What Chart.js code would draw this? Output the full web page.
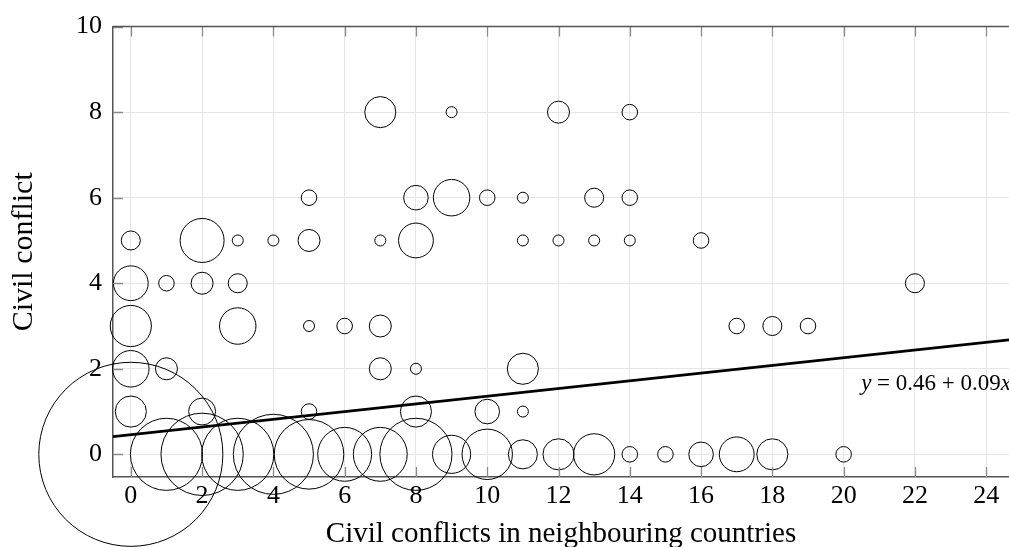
<!DOCTYPE html>
<html>
<head>
<meta charset="utf-8">
<script src="https://cdn.jsdelivr.net/npm/chart.js@4"></script>
<style>
  html, body { margin: 0; padding: 0; background: #fff; }
  #wrap { width: 1009px; height: 547px; position: relative; }
</style>
</head>
<body>
<div id="wrap"><canvas id="bubbleChart"></canvas></div>
<script>
// Civil conflicts in neighbouring countries (x) vs. civil conflict (y), bubble = number of observations
const neighbourConflicts = [
    0, 1, 2, 3, 4, 5, 6, 7, 8, 9, 10, 11, 12, 13, 14, 15, 16, 17, 18, 20,
    0, 2, 5, 8, 10, 11,
    0, 1, 7, 8, 11,
    0, 3, 5, 6, 7, 17, 18, 19,
    0, 1, 2, 3, 22,
    0, 2, 3, 4, 5, 7, 8, 11, 12, 13, 14, 16,
    5, 8, 9, 10, 11, 13, 14,
    7, 9, 12, 14
];
const civilConflicts = [
    0, 0, 0, 0, 0, 0, 0, 0, 0, 0, 0, 0, 0, 0, 0, 0, 0, 0, 0, 0,
    1, 1, 1, 1, 1, 1,
    2, 2, 2, 2, 2,
    3, 3, 3, 3, 3, 3, 3, 3,
    4, 4, 4, 4, 4,
    5, 5, 5, 5, 5, 5, 5, 5, 5, 5, 5, 5,
    6, 6, 6, 6, 6, 6, 6,
    8, 8, 8, 8
];
const observations = [
    280, 43, 56, 43, 53, 40, 24, 24, 43, 12, 21, 7, 8, 14, 2, 2, 5, 10, 8, 2,
    8, 6, 2, 8, 5, 1,
    11, 4, 4, 1, 8,
    14, 11, 1, 2, 4, 2, 3, 2,
    10, 2, 4, 3, 3,
    3, 16, 1, 1, 4, 1, 10, 1, 1, 1, 1, 2,
    2, 5, 11, 2, 1, 3, 2,
    8, 1, 4, 2
];

// Fitted line y = a + b x
const fitIntercept = 0.46;
const fitSlope = 0.09;

const xTicks = [0, 2, 4, 6, 8, 10, 12, 14, 16, 18, 20, 22, 24];
const yTicks = [0, 2, 4, 6, 8, 10];
const xMin = -0.5, xMax = 24.64;
const yMin = -0.53, yMax = 10;

const serif = "'Liberation Serif', 'DejaVu Serif', serif";
const bubbleScale = 5.5;

const bubbles = neighbourConflicts.map(function (x, i) {
    return { x: x, y: civilConflicts[i], r: bubbleScale * Math.sqrt(observations[i]) };
});

// Inward tick marks, top frame line and the fit label
const framePlugin = {
    id: 'frame',
    afterDraw: function (chart) {
        const ctx = chart.ctx;
        const a = chart.chartArea;
        const xs = chart.scales.x, ys = chart.scales.y;
        ctx.save();
        ctx.strokeStyle = '#8a8a8a';
        ctx.lineWidth = 1.3;
        ctx.beginPath();
        xTicks.forEach(function (v) {
            const px = Math.round(xs.getPixelForValue(v)) + 0.5;
            ctx.moveTo(px, a.bottom); ctx.lineTo(px, a.bottom - 10);
            ctx.moveTo(px, a.top); ctx.lineTo(px, a.top + 10);
        });
        yTicks.forEach(function (v) {
            const py = Math.round(ys.getPixelForValue(v)) + 0.5;
            ctx.moveTo(a.left, py); ctx.lineTo(a.left + 10, py);
        });
        ctx.stroke();

        ctx.strokeStyle = '#555';
        ctx.lineWidth = 1.5;
        ctx.beginPath();
        ctx.moveTo(a.left, a.top);
        ctx.lineTo(a.right, a.top);
        ctx.stroke();

        // equation label, right aligned at the right edge
        const parts = [
            ['italic', 'y'],
            ['normal', ' = 0.46 + 0.09'],
            ['italic', 'x']
        ];
        let total = 0;
        parts.forEach(function (p) {
            ctx.font = p[0] + ' 23px ' + serif;
            total += ctx.measureText(p[1]).width;
        });
        let px = a.right + 2 - total;
        const py = ys.getPixelForValue(1.65);
        ctx.fillStyle = '#000';
        ctx.textBaseline = 'middle';
        ctx.textAlign = 'left';
        parts.forEach(function (p) {
            ctx.font = p[0] + ' 23px ' + serif;
            ctx.fillText(p[1], px, py);
            px += ctx.measureText(p[1]).width;
        });
        ctx.restore();
    }
};

const ctx = document.getElementById('bubbleChart').getContext('2d');
const bubbleChart = new Chart(ctx, {
    type: 'bubble',
    data: {
        datasets: [{
            type: 'line',
            label: 'Fit',
            data: [
                { x: xMin, y: fitIntercept + fitSlope * xMin },
                { x: xMax, y: fitIntercept + fitSlope * xMax }
            ],
            borderColor: '#000',
            borderWidth: 2.7,
            pointRadius: 0,
            fill: false
        }, {
            label: 'Observations',
            data: bubbles,
            backgroundColor: 'rgba(0,0,0,0)',
            borderColor: '#000',
            borderWidth: 1,
            clip: false
        }]
    },
    options: {
        responsive: true,
        maintainAspectRatio: false,
        animation: false,
        events: [],
        layout: { autoPadding: false, padding: { top: 23, right: 0, left: 0, bottom: 0 } },
        plugins: {
            legend: { display: false },
            tooltip: { enabled: false }
        },
        scales: {
            x: {
                type: 'linear',
                min: xMin,
                max: xMax,
                afterBuildTicks: function (s) { s.ticks = xTicks.map(function (v) { return { value: v }; }); },
                afterFit: function (s) { s.height = 70; },
                grid: { color: '#e6e6e6', lineWidth: 1, drawTicks: false },
                border: { display: true, color: '#555', width: 1.5 },
                ticks: { color: '#000', padding: 4, font: { family: serif, size: 26 } },
                title: {
                    display: true,
                    text: 'Civil conflicts in neighbouring countries',
                    color: '#000',
                    font: { family: serif, size: 29, lineHeight: 1 },
                    padding: { top: 0, bottom: -2 }
                }
            },
            y: {
                type: 'linear',
                min: yMin,
                max: yMax,
                afterBuildTicks: function (s) { s.ticks = yTicks.map(function (v) { return { value: v }; }); },
                afterFit: function (s) { s.width = 113; },
                grid: { color: '#e6e6e6', lineWidth: 1, drawTicks: false },
                border: { display: true, color: '#555', width: 1.5 },
                ticks: { color: '#000', padding: 11, font: { family: serif, size: 26 } },
                title: {
                    display: true,
                    text: 'Civil conflict',
                    color: '#000',
                    font: { family: serif, size: 30, lineHeight: 1 },
                    padding: { top: 9, bottom: 0 }
                }
            }
        }
    },
    plugins: [framePlugin]
});
</script>
</body>
</html>
